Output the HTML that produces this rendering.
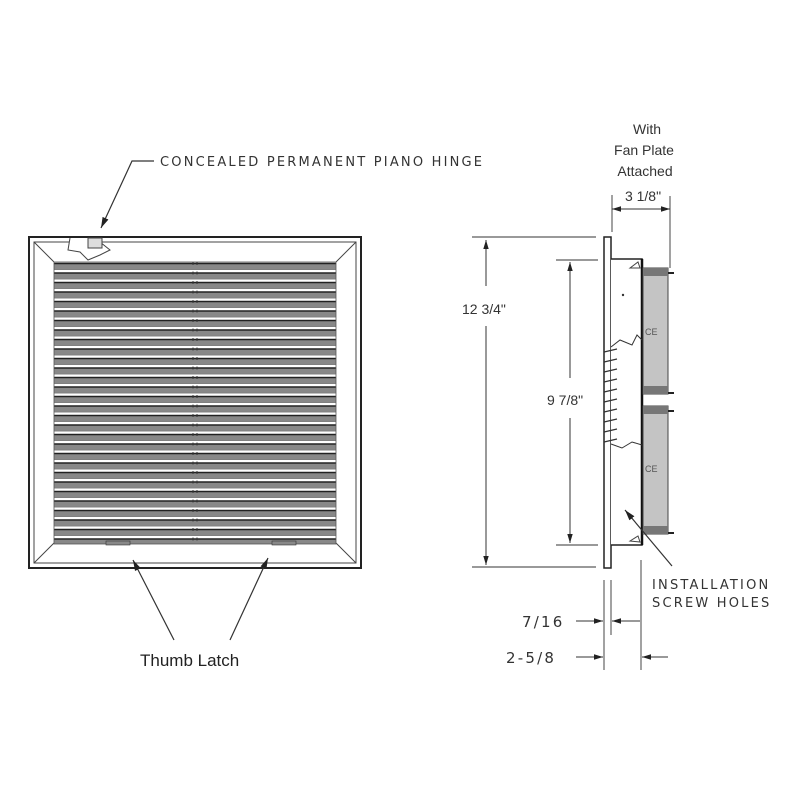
<!DOCTYPE html>
<html><head><meta charset="utf-8"><style>
html,body{margin:0;padding:0;background:#fff;}
svg{display:block}
text{font-family:"Liberation Sans",sans-serif;fill:#333}
.m{font-family:"DejaVu Sans","Liberation Sans",sans-serif;font-size:13px;letter-spacing:2.2px;fill:#333}
</style></head><body>
<svg width="800" height="800" viewBox="0 0 800 800" xmlns="http://www.w3.org/2000/svg">
<defs>
<pattern id="lv" x="54" y="262" width="282" height="9.5" patternUnits="userSpaceOnUse">
<rect x="0" y="0" width="282" height="9.5" fill="#fff"/>
<rect x="0" y="2" width="282" height="5" fill="#888"/>
<line x1="0" y1="1.5" x2="282" y2="1.5" stroke="#222" stroke-width="1.4"/>
<line x1="0" y1="7.5" x2="282" y2="7.5" stroke="#555" stroke-width="0.8"/>
</pattern>
<marker id="ar" viewBox="0 0 10 10" refX="10" refY="5" markerWidth="9" markerHeight="9" orient="auto-start-reverse"><path d="M0,2 L10,5 L0,8 z" fill="#222"/></marker>
</defs>

<text x="160" y="166" class="m">CONCEALED PERMANENT PIANO HINGE</text>
<polyline points="154,161 132,161 101,228" fill="none" stroke="#333" stroke-width="1.2" marker-end="url(#ar)"/>

<rect x="29" y="237" width="332" height="331" fill="#fff" stroke="#222" stroke-width="2"/>
<rect x="34" y="242" width="322" height="321" fill="none" stroke="#444" stroke-width="1"/>
<line x1="34" y1="242" x2="54" y2="262" stroke="#444"/>
<line x1="356" y1="242" x2="336" y2="262" stroke="#444"/>
<line x1="34" y1="563" x2="54" y2="543" stroke="#444"/>
<line x1="356" y1="563" x2="336" y2="543" stroke="#444"/>
<rect x="54" y="262" width="282" height="282" fill="url(#lv)" stroke="#555" stroke-width="0.8"/>
<line x1="193" y1="262" x2="193" y2="544" stroke="#333" stroke-width="1" stroke-dasharray="3,6.5"/>
<line x1="197" y1="262" x2="197" y2="544" stroke="#333" stroke-width="1" stroke-dasharray="3,6.5"/>
<path d="M70,238 L68,250 L80,252 L88,260 L100,255 L110,250 L100,242 L102,238" fill="#fff" stroke="#444" stroke-width="1"/>
<rect x="88" y="238" width="14" height="10" fill="#ddd" stroke="#444"/>
<rect x="106" y="541" width="24" height="4" fill="#888" stroke="#333" stroke-width="0.6"/>
<rect x="272" y="541" width="24" height="4" fill="#888" stroke="#333" stroke-width="0.6"/>
<line x1="174" y1="640" x2="133" y2="560" stroke="#333" stroke-width="1.2" marker-end="url(#ar)"/>
<line x1="230" y1="640" x2="268" y2="558" stroke="#333" stroke-width="1.2" marker-end="url(#ar)"/>
<text x="140" y="666" font-size="17" style="fill:#222">Thumb Latch</text>

<text x="647" y="134" font-size="14" text-anchor="middle">With</text>
<text x="644" y="155" font-size="14" text-anchor="middle">Fan Plate</text>
<text x="645" y="176" font-size="14" text-anchor="middle">Attached</text>
<text x="643" y="201" font-size="14" text-anchor="middle">3 1/8"</text>
<line x1="612" y1="195" x2="612" y2="232" stroke="#444"/>
<line x1="670" y1="196" x2="670" y2="268" stroke="#444"/>
<line x1="612" y1="209" x2="670" y2="209" stroke="#333" marker-start="url(#ar)" marker-end="url(#ar)"/>

<line x1="472" y1="237" x2="596" y2="237" stroke="#333"/>
<line x1="472" y1="567" x2="596" y2="567" stroke="#333"/>
<line x1="486" y1="240" x2="486" y2="286" stroke="#333" marker-start="url(#ar)"/>
<line x1="486" y1="326" x2="486" y2="565" stroke="#333" marker-end="url(#ar)"/>
<text x="462" y="314" font-size="14">12 3/4"</text>
<line x1="556" y1="260" x2="598" y2="260" stroke="#333"/>
<line x1="556" y1="545" x2="598" y2="545" stroke="#333"/>
<line x1="570" y1="262" x2="570" y2="378" stroke="#333" marker-start="url(#ar)"/>
<line x1="570" y1="418" x2="570" y2="543" stroke="#333" marker-end="url(#ar)"/>
<text x="547" y="405" font-size="14">9 7/8"</text>

<rect x="604" y="237" width="7" height="331" fill="#fff" stroke="#222" stroke-width="1.5"/>
<path d="M611,259 L642,259 L642,545 L611,545" fill="#fff" stroke="#222" stroke-width="1.5"/>
<line x1="642" y1="259" x2="642" y2="545" stroke="#111" stroke-width="2.5"/>
<rect x="643" y="268" width="25" height="126" fill="#c4c4c4" stroke="#444"/>
<rect x="643" y="268" width="25" height="8" fill="#777"/>
<rect x="643" y="386" width="25" height="8" fill="#777"/>
<rect x="643" y="406" width="25" height="128" fill="#c4c4c4" stroke="#444"/>
<rect x="643" y="406" width="25" height="8" fill="#777"/>
<rect x="643" y="526" width="25" height="8" fill="#777"/>
<line x1="668" y1="273" x2="674" y2="273" stroke="#222" stroke-width="2"/>
<line x1="668" y1="393" x2="674" y2="393" stroke="#222" stroke-width="2"/>
<line x1="668" y1="411" x2="674" y2="411" stroke="#222" stroke-width="2"/>
<line x1="668" y1="533" x2="674" y2="533" stroke="#222" stroke-width="2"/>
<text x="645" y="335" font-size="9" style="fill:#555">CE</text>
<text x="645" y="472" font-size="9" style="fill:#555">CE</text>
<path d="M611,347 L620,340 L632,345 L637,335 L642,340" fill="none" stroke="#333"/>
<path d="M611,444 L622,448 L632,442 L642,445" fill="none" stroke="#333"/>
<g stroke="#333" stroke-width="1.2">
<line x1="604" y1="352" x2="617" y2="349"/><line x1="604" y1="362" x2="617" y2="359"/>
<line x1="604" y1="372" x2="617" y2="369"/><line x1="604" y1="382" x2="617" y2="379"/>
<line x1="604" y1="392" x2="617" y2="389"/><line x1="604" y1="402" x2="617" y2="399"/>
<line x1="604" y1="412" x2="617" y2="409"/><line x1="604" y1="422" x2="617" y2="419"/>
<line x1="604" y1="432" x2="617" y2="429"/><line x1="604" y1="442" x2="617" y2="439"/>
</g>
<circle cx="623" cy="295" r="1.2" fill="#333"/>
<path d="M630,268 L638,262 L640,268 z" fill="none" stroke="#444"/>
<path d="M630,541 L638,536 L640,542 z" fill="none" stroke="#444"/>
<line x1="672" y1="566" x2="625" y2="510" stroke="#333" stroke-width="1.2" marker-end="url(#ar)"/>
<text x="652" y="589" class="m">INSTALLATION</text>
<text x="652" y="607" class="m">SCREW HOLES</text>

<line x1="604" y1="580" x2="604" y2="670" stroke="#444"/>
<line x1="611" y1="580" x2="611" y2="635" stroke="#444"/>
<line x1="641" y1="560" x2="641" y2="670" stroke="#444"/>
<line x1="576" y1="621" x2="603" y2="621" stroke="#333" marker-end="url(#ar)"/>
<line x1="640" y1="621" x2="612" y2="621" stroke="#333" marker-end="url(#ar)"/>
<text x="522" y="627" class="m" style="font-size:15px">7/16</text>
<line x1="576" y1="657" x2="603" y2="657" stroke="#333" marker-end="url(#ar)"/>
<line x1="668" y1="657" x2="642" y2="657" stroke="#333" marker-end="url(#ar)"/>
<text x="506" y="663" class="m" style="font-size:15px">2-5/8</text>
</svg>
</body></html>
